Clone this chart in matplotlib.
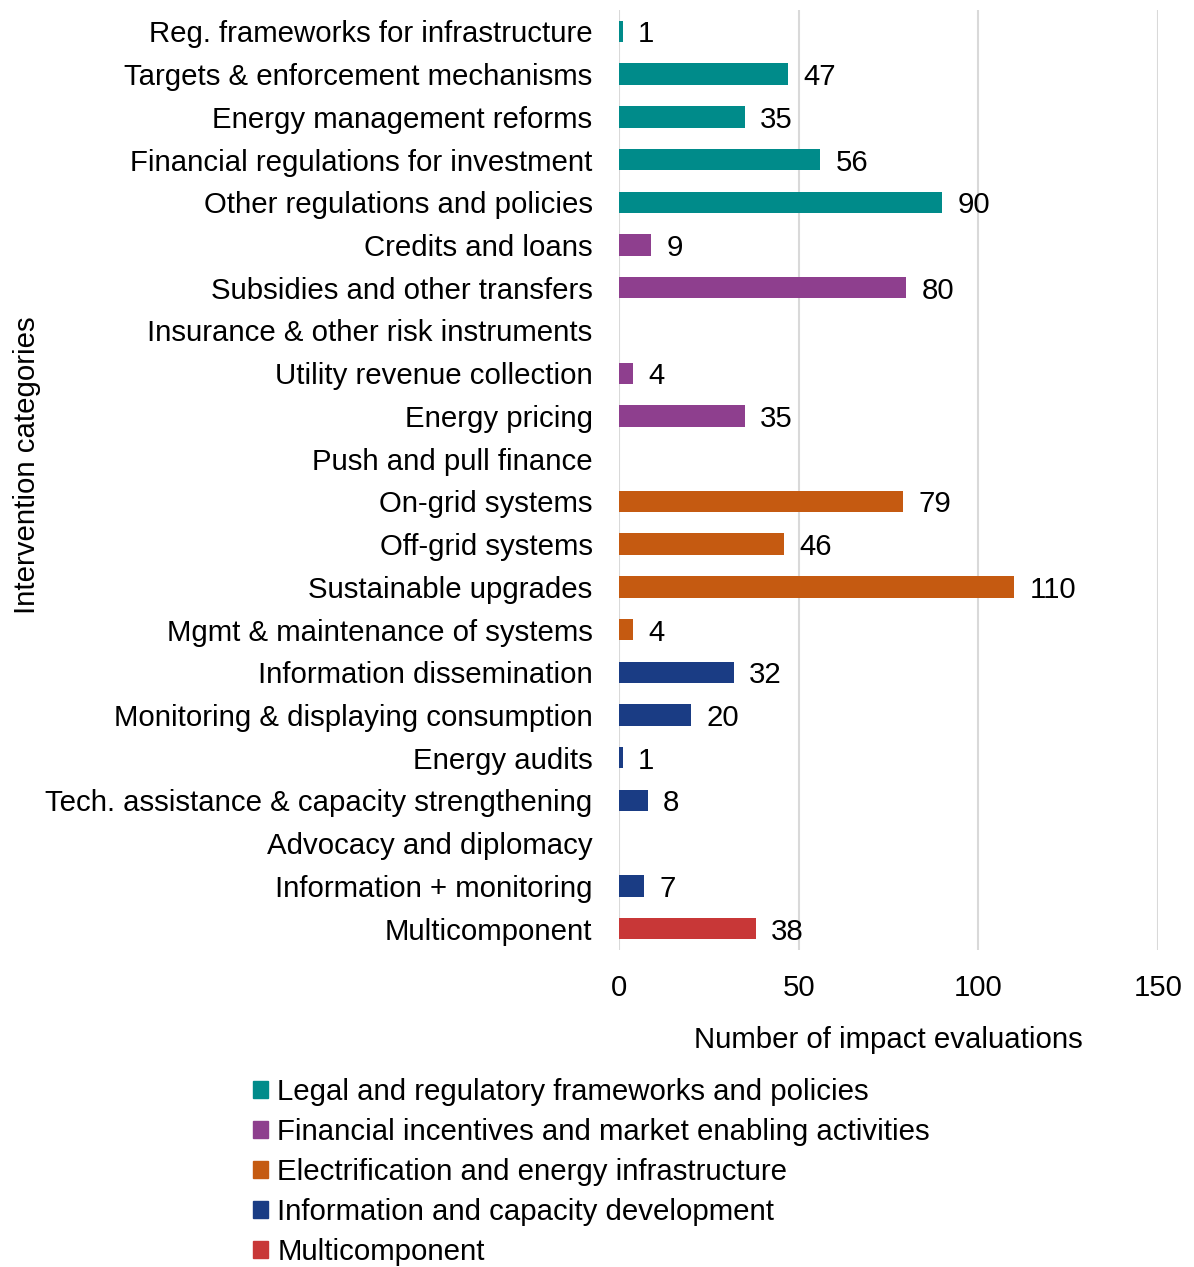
import matplotlib.pyplot as plt
from matplotlib.patches import Patch

categories = ['Reg. frameworks for infrastructure', 'Targets & enforcement mechanisms',
              'Energy management reforms', 'Financial regulations for investment',
              'Other regulations and policies', 'Credits and loans',
              'Subsidies and other transfers', 'Insurance & other risk instruments',
              'Utility revenue collection', 'Energy pricing', 'Push and pull finance',
              'On-grid systems', 'Off-grid systems', 'Sustainable upgrades',
              'Mgmt & maintenance of systems', 'Information dissemination',
              'Monitoring & displaying consumption', 'Energy audits',
              'Tech. assistance & capacity strengthening', 'Advocacy and diplomacy',
              'Information + monitoring', 'Multicomponent']
values = [1, 47, 35, 56, 90, 9, 80, 0, 4, 35, 0, 79, 46, 110, 4, 32, 20, 1, 8, 0, 7, 38]
group = [0, 0, 0, 0, 0, 1, 1, 1, 1, 1, 1, 2, 2, 2, 2, 3, 3, 3, 3, 3, 3, 4]

group_names = ['Legal and regulatory frameworks and policies',
               'Financial incentives and market enabling activities',
               'Electrification and energy infrastructure',
               'Information and capacity development',
               'Multicomponent']
group_colors = ['#008B8A', '#8E3F8E', '#C55A11', '#1A3C84', '#C83737']

plt.rcParams['font.family'] = ['Liberation Sans', 'DejaVu Sans']
fs = 21.2

fig = plt.figure(figsize=(11.94, 12.67), dpi=100)
W, H = 1194, 1267
ax = fig.add_axes([619 / W, 1 - 950 / H, (1158 - 619) / W, (950 - 10) / H])

y = list(range(len(categories)))
cols = [group_colors[g] for g in group]
ax.barh(y, values, height=0.5, color=cols, zorder=3)
for yi, v in zip(y, values):
    if v > 0:
        ax.annotate(str(v), (v, yi), xytext=(11, 0), textcoords='offset points',
                    ha='left', va='center_baseline', fontsize=fs, color='black')

ax.set_ylim(len(categories) - 0.5, -0.5)
ax.set_xlim(0, 150)
ax.set_xticks([0, 50, 100, 150])
ax.set_yticks(y)
ax.set_yticklabels(categories)
ax.tick_params(axis='y', length=0, pad=19, labelsize=fs)
ax.tick_params(axis='x', length=0, pad=17, labelsize=fs)
ax.grid(axis='x', color='#D9D9D9', linewidth=1.5, zorder=0)
for s in ax.spines.values():
    s.set_visible(False)

ax.set_xlabel('Number of impact evaluations', fontsize=fs, va='top')
ax.xaxis.set_label_coords(0.5, -0.081)
ax.set_ylabel('Intervention categories', fontsize=fs)
ax.yaxis.set_label_coords(-1.072, 0.516)

handles = [Patch(color=c) for c in group_colors]
fig.legend(handles, group_names, loc='upper left', bbox_to_anchor=(253 / W, 1 - 1078 / H),
           frameon=False, fontsize=fs, handlelength=0.52, handleheight=0.52,
           handletextpad=0.3, labelspacing=0.41, borderpad=0, borderaxespad=0)

fig.savefig('out.png', dpi=100)
